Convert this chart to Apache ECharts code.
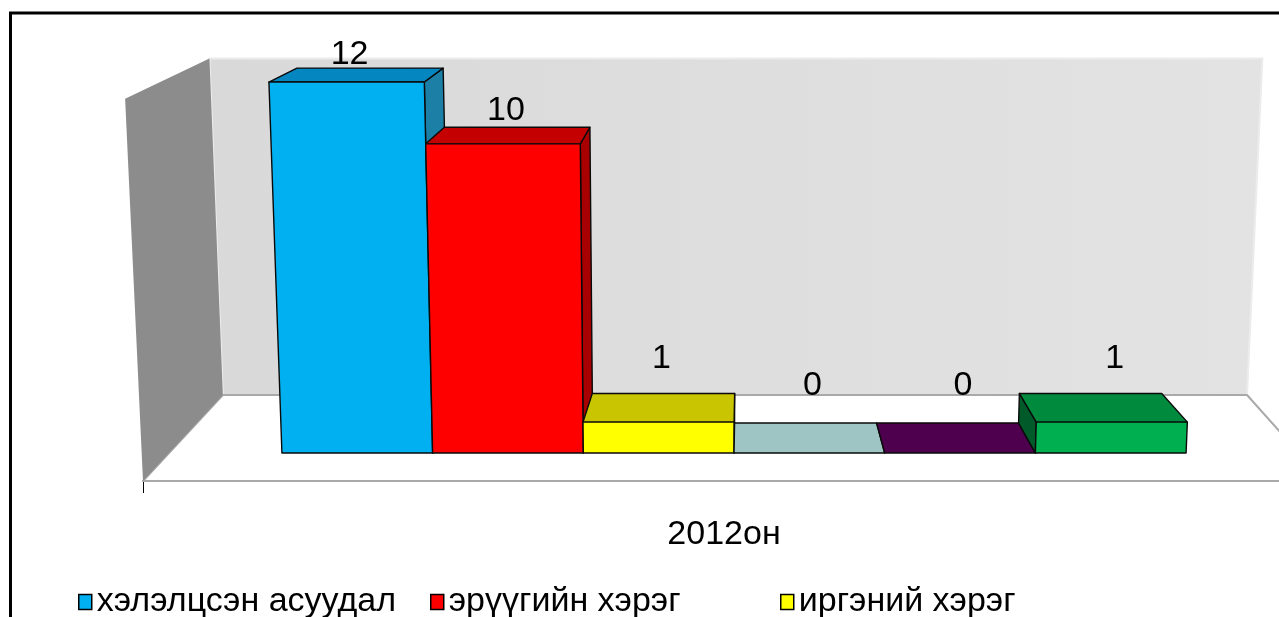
<!DOCTYPE html>
<html>
<head>
<meta charset="utf-8">
<script src="https://cdn.jsdelivr.net/npm/echarts@6/dist/echarts.min.js"></script>
<style>
html,body{margin:0;padding:0;background:#fff;}
#chart{width:1279px;height:617px;}
</style>
</head>
<body>
<div id="chart"></div>
<script>
// ---- data ----
const categories = ['2012он'];
const seriesNames = ['хэлэлцсэн асуудал', 'эрүүгийн хэрэг', 'иргэний хэрэг', 'цуврал 4', 'цуврал 5', 'цуврал 6'];
const seriesValues = [12, 10, 1, 0, 0, 1];
const axisMin = 0;
const axisMax = 12;

// ---- styles ----
const frontColors = ['#00B0F0', '#FF0000', '#FFFF00', '#A8CECE', '#5A005A', '#00B050'];
const topColors   = ['#0486C0', '#C40000', '#C9C500', '#9FC4C4', '#4E004E', '#008A3E'];
const sideColors  = ['#1B7FA6', '#A80000', '#9A9600', '#7FA5A5', '#3A003A', '#005A2A'];
const FONT = '"Liberation Sans", Arial, sans-serif';

// ---- layout / 3D projection (camera parameters) ----
const GRID_LEFT = 143, GRID_TOP = 95, GRID_HEIGHT = 386, CHART_W = 1279;
const FLOOR_W = 1181;                 // front edge of floor extends past the canvas
const WALL_TOP_FRAC = 0.99;           // back wall height relative to axis max
const VX = 742, VY = -239.8;          // vanishing point for depth
const VX2 = 700, KV = 0.000084;       // vertical convergence (looking down)
const PLANE_FLOOR_FRONT = [1, 1];
const PLANE_BAR_FRONT = [0.950, 0.9612];
const PLANE_BAR_BACK = [0.893, 0.9196];
const PLANE_FLOOR_BACK = [0.861, 0.8807];
const LABEL_S = 0.8575, LABEL_DY = 13.7;
const BAR_FRAC = 0.134;
let baseY = GRID_TOP + GRID_HEIGHT;

function proj(fx, fy, plane) {
  const x1 = VX + (fx - VX) * plane[0];
  const y1 = VY + (fy - VY) * plane[1];
  const x2 = VX2 + (x1 - VX2) * (1 + (baseY - y1) * KV);
  return [x2, y1];
}
function poly(points, fill, stroke, lw) {
  return {
    type: 'polygon',
    shape: { points: points },
    style: { fill: fill, stroke: stroke || 'none', lineWidth: lw || 0, lineJoin: 'round' }
  };
}

function sceneRender(params, api) {
  const c = api.coord([api.value(0), axisMin]);
  const band = api.size([1, 0])[0];
  const L = c[0] - band / 2, R = c[0] + band / 2;
  const y0 = c[1];
  baseY = y0;
  const yt = api.coord([api.value(0), axisMax * WALL_TOP_FRAC])[1];
  const F = PLANE_FLOOR_FRONT, B = PLANE_FLOOR_BACK;
  const children = [];
  // back wall
  const bw = [proj(L, y0, B), proj(R, y0, B), proj(R, yt, B), proj(L, yt, B)];
  children.push({
    type: 'polygon', shape: { points: bw },
    style: {
      fill: new echarts.graphic.LinearGradient(0, 0, 1, 0, [
        { offset: 0, color: '#d9d9d9' }, { offset: 1, color: '#e3e3e3' }
      ]),
      stroke: '#ececec', lineWidth: 2
    }
  });
  // floor
  children.push(poly([proj(L, y0, F), proj(R, y0, F), proj(R, y0, B), proj(L, y0, B)], '#ffffff', '#a9a9a9', 2));
  // left wall
  children.push(poly([proj(L, y0, F), proj(L, y0, B), proj(L, yt, B), proj(L, yt, F)], '#8c8c8c'));
  return { type: 'group', children: children };
}

function makeBarRender(idx) {
  return function (params, api) {
    const v = api.value(1);
    const c = api.coord([api.value(0), axisMin]);
    const band = api.size([1, 0])[0];
    const w = band * BAR_FRAC;
    const n = seriesValues.length;
    const L = c[0] - w * n / 2 + idx * w, R = L + w;
    const y0 = c[1];
    const yv = api.coord([api.value(0), v])[1];
    const BF = PLANE_BAR_FRONT, BK = PLANE_BAR_BACK;
    const fL0 = proj(L, y0, BF), fR0 = proj(R, y0, BF), fRv = proj(R, yv, BF), fLv = proj(L, yv, BF);
    const kL0 = proj(L, y0, BK), kR0 = proj(R, y0, BK), kRv = proj(R, yv, BK), kLv = proj(L, yv, BK);
    const st = '#0a0a0a', lw = 1.4;
    const children = [];
    if (v > 0 && kRv[0] > fRv[0]) children.push(poly([fR0, kR0, kRv, fRv], sideColors[idx], st, lw));
    if (v > 0 && kLv[0] < fLv[0]) children.push(poly([fL0, kL0, kLv, fLv], sideColors[idx], st, lw));
    children.push(poly([fLv, fRv, kRv, kLv], topColors[idx], st, lw));
    if (v > 0) children.push(poly([fL0, fR0, fRv, fLv], frontColors[idx], st, lw));
    // value label
    const ly = VY + (yv - VY) * LABEL_S + LABEL_DY;
    children.push({
      type: 'text',
      style: {
        text: String(v), x: (fLv[0] + fRv[0]) / 2 + 3, y: ly - 6,
        align: 'center', verticalAlign: 'middle',
        fontSize: 34, fontFamily: FONT, fill: '#000'
      }
    });
    return { type: 'group', children: children };
  };
}

const series = [{
  type: 'custom', name: '__scene', silent: true, clip: false, z: 1,
  xAxisIndex: 1,
  renderItem: sceneRender, data: [[0, 0]], tooltip: { show: false }
}];
seriesNames.forEach(function (name, i) {
  series.push({
    type: 'custom', name: name, clip: false, z: 2 + i,
    xAxisIndex: 1,
    itemStyle: { color: frontColors[i] },
    renderItem: makeBarRender(i),
    data: [[0, seriesValues[i]]]
  });
});

function legendFor(names, left) {
  return {
    data: names, left: left, top: 580, orient: 'vertical', itemGap: 40,
    width: 400, height: 400,
    icon: 'rect', itemWidth: 13, itemHeight: 15,
    itemStyle: { borderColor: '#000', borderWidth: 1.5 },
    textStyle: { fontSize: 34, fontFamily: FONT, color: '#000' },
    selectedMode: false
  };
}

const gridWidth = CHART_W - GRID_LEFT;
const chart = echarts.init(document.getElementById('chart'), null, { renderer: 'canvas' });
chart.setOption({
  animation: false,
  backgroundColor: '#ffffff',
  grid: { left: GRID_LEFT, right: 0, top: GRID_TOP, height: GRID_HEIGHT, containLabel: false },
  xAxis: [{
    type: 'category', data: categories, boundaryGap: true,
    axisLine: { show: false },
    axisTick: { show: true, length: 12, lineStyle: { color: '#000', width: 1 } },
    axisLabel: { fontSize: 34, fontFamily: FONT, color: '#000', margin: 37, padding: [0, 0, 0, 26] },
    splitLine: { show: false }
  }, {
    // hidden value axis for the 3D floor: one category unit spans the full floor width
    type: 'value', show: false, min: -0.5, max: -0.5 + gridWidth / FLOOR_W
  }],
  yAxis: {
    type: 'value', min: axisMin, max: axisMax, show: false
  },
  legend: [
    legendFor([seriesNames[0], seriesNames[3]], 73),
    legendFor([seriesNames[1], seriesNames[4]], 425),
    legendFor([seriesNames[2], seriesNames[5]], 775)
  ],
  graphic: [{
    type: 'rect', z: 100, silent: true,
    shape: { x: 10.5, y: 13, width: 1400, height: 800 },
    style: { fill: 'none', stroke: '#000', lineWidth: 3 }
  }],
  series: series
});
</script>
</body>
</html>
